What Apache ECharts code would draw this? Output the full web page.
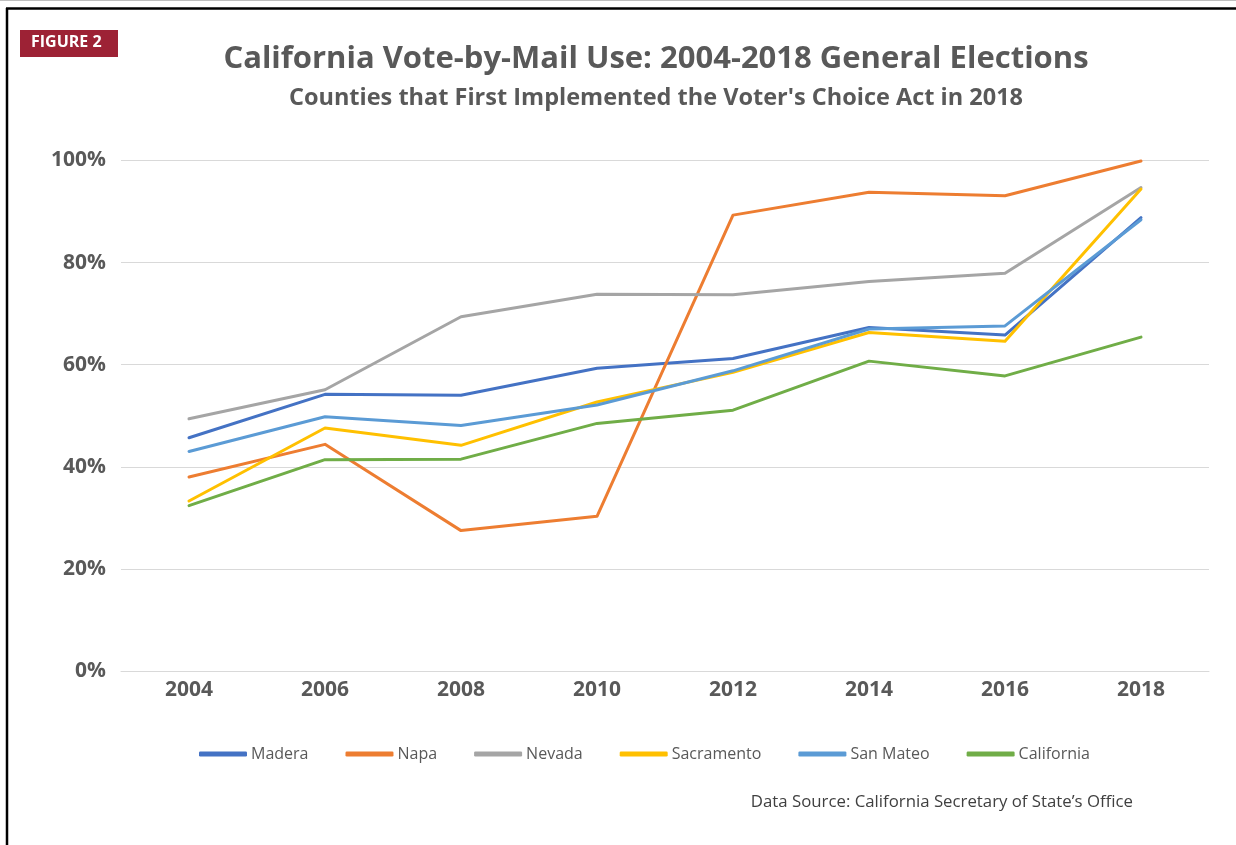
<!DOCTYPE html>
<html>
<head>
<meta charset="utf-8">
<script src="https://cdn.jsdelivr.net/npm/echarts@6/dist/echarts.min.js"></script>
<style>
html,body{margin:0;padding:0;background:#fff;}
#chart{width:1236px;height:845px;}
</style>
</head>
<body>
<div id="chart"></div>
<script>
const years = ['2004','2006','2008','2010','2012','2014','2016','2018'];
const yTicks = [0, 20, 40, 60, 80, 100];
const madera     = [45.7, 54.2, 54.0, 59.3, 61.2, 67.3, 65.8, 88.8];
const napa       = [38.0, 44.4, 27.5, 30.3, 89.3, 93.8, 93.1, 99.9];
const nevada     = [49.4, 55.1, 69.4, 73.8, 73.7, 76.3, 77.9, 94.7];
const sacramento = [33.3, 47.6, 44.2, 52.7, 58.5, 66.3, 64.6, 94.4];
const sanMateo   = [43.0, 49.8, 48.1, 52.1, 58.8, 67.0, 67.6, 88.4];
const california = [32.4, 41.4, 41.5, 48.5, 51.1, 60.7, 57.8, 65.4];

const seriesDefs = [
  ['Madera', madera, '#4472C4'],
  ['Napa', napa, '#ED7D31'],
  ['Nevada', nevada, '#A5A5A5'],
  ['Sacramento', sacramento, '#FFC000'],
  ['San Mateo', sanMateo, '#5B9BD5'],
  ['California', california, '#70AD47']
];

const FONT = '"Open Sans", "Noto Sans", sans-serif';
const chart = echarts.init(document.getElementById('chart'), null, {renderer: 'canvas'});
chart.setOption({
  animation: false,
  backgroundColor: '#ffffff',
  color: seriesDefs.map(d => d[2]),
  title: [
    {
      text: 'California Vote-by-Mail Use: 2004-2018 General Elections',
      left: 651, top: 39, textAlign: 'center',
      textStyle: {fontFamily: FONT, fontWeight: 'bold', fontSize: 31, color: '#595959'}
    },
    {
      text: "Counties that First Implemented the Voter's Choice Act in 2018",
      left: 651, top: 81, textAlign: 'center',
      textStyle: {fontFamily: FONT, fontWeight: 'bold', fontSize: 23.5, color: '#595959'}
    }
  ],
  grid: {left: 121, right: 27, top: 160.5, bottom: 174, containLabel: false},
  legend: {
    left: 194, top: 741,
    icon: 'roundRect', itemWidth: 48, itemHeight: 5, itemGap: 37,
    textStyle: {fontFamily: FONT, fontSize: 16, color: '#595959', padding: [0,0,0,-1]},
    data: seriesDefs.map(d => d[0])
  },
  xAxis: {
    type: 'category', data: years, boundaryGap: true,
    axisLine: {show: true, lineStyle: {color: '#d9d9d9', width: 1}},
    axisTick: {show: false},
    axisLabel: {fontFamily: FONT, fontWeight: 'bold', fontSize: 21, color: '#595959', margin: 9}
  },
  yAxis: {
    type: 'value', min: 0, max: 100, interval: 20,
    axisLine: {show: false}, axisTick: {show: false},
    splitLine: {lineStyle: {color: '#d9d9d9', width: 1}},
    axisLabel: {fontFamily: FONT, fontWeight: 'bold', fontSize: 21, color: '#595959', margin: 15,
      formatter: v => yTicks.includes(v) ? v + '%' : ''}
  },
  series: seriesDefs.map(d => ({
    name: d[0], type: 'line', data: d[1],
    symbol: 'none', smooth: false,
    lineStyle: {width: 3, color: d[2], cap: 'round', join: 'round'},
    itemStyle: {color: d[2]}
  })),
  graphic: [
    {type: 'line', shape: {x1: 0, y1: 0.5, x2: 1236, y2: 0.5}, style: {stroke: '#bfbfbf', lineWidth: 1}, silent: true},
    {type: 'line', shape: {x1: 6, y1: 8.5, x2: 1236, y2: 8.5}, style: {stroke: '#000', lineWidth: 2.5}, silent: true},
    {type: 'line', shape: {x1: 7, y1: 8, x2: 7, y2: 845}, style: {stroke: '#000', lineWidth: 2.5}, silent: true},
    {type: 'rect', shape: {x: 20, y: 30, width: 98, height: 27}, style: {fill: '#9D2235'}, silent: true},
    {type: 'text', left: 31, top: 34, style: {text: 'FIGURE 2', fill: '#ffffff', font: 'bold 16px ' + FONT}, silent: true},
    {type: 'text', right: 103, top: 794, style: {text: 'Data Source: California Secretary of State\u2019s Office', fill: '#404040', font: '16.8px ' + FONT}, silent: true}
  ]
});
</script>
</body>
</html>
